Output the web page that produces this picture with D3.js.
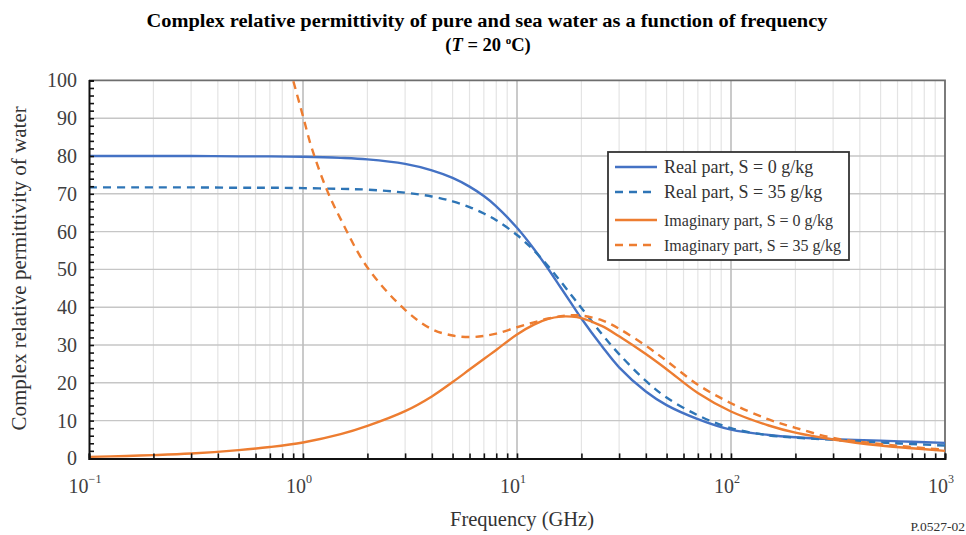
<!DOCTYPE html>
<html>
<head>
<meta charset="utf-8">
<script src="https://cdn.jsdelivr.net/npm/d3@7"></script>
<style>
  body { margin: 0; background: #fff; }
  svg { display: block; font-family: "Liberation Serif", "Times New Roman", serif; }
</style>
</head>
<body>
<svg id="chart" width="966" height="535"></svg>
<script>
// frequencies in GHz
const freq = [0.1, 0.15, 0.2, 0.3, 0.5, 0.7, 1, 1.5, 2, 3, 4, 5, 6, 7, 8, 10, 12, 14, 16, 18, 20, 25, 30, 40, 50, 70, 100, 150, 200, 300, 500, 700, 1000]
const realS0 = [80.0, 80.0, 80.0, 80.0, 79.9, 79.9, 79.8, 79.5, 79.1, 77.9, 76.2, 74.2, 71.9, 69.4, 66.7, 61.0, 55.4, 50.1, 45.2, 40.9, 37.0, 29.6, 24.1, 17.7, 14.1, 10.4, 7.6, 6.2, 5.6, 5.1, 4.7, 4.4, 4.1]
const realS35 = [71.7, 71.7, 71.7, 71.7, 71.6, 71.6, 71.5, 71.3, 71.1, 70.3, 69.3, 68.0, 66.5, 64.8, 63.0, 59.1, 55.0, 50.8, 46.8, 43.1, 39.8, 32.8, 27.6, 20.5, 16.1, 11.4, 8.0, 6.1, 5.5, 4.9, 4.2, 3.8, 3.4]
const imagS0 = [0.4, 0.65, 0.87, 1.3, 2.2, 3.0, 4.2, 6.4, 8.6, 12.5, 16.4, 20.2, 23.5, 26.3, 28.7, 32.8, 35.4, 36.9, 37.5, 37.5, 37.1, 35.0, 32.3, 27.6, 23.6, 17.3, 12.4, 8.7, 6.8, 5.0, 3.4, 2.7, 2.0]
const freqImagS35 = [0.8, 1, 1.1, 1.3, 1.5, 2, 3, 4, 5, 6, 7, 8, 10, 12, 14, 16, 18, 20, 25, 30, 40, 50, 70, 100, 150, 200, 300, 500, 700, 1000]
const imagS35 = [110.5, 90.5, 82.0, 70.7, 63.3, 50.5, 39.3, 34.2, 32.5, 32.1, 32.4, 33.0, 34.7, 36.0, 37.0, 37.6, 37.9, 37.8, 36.5, 34.3, 29.8, 25.8, 19.5, 14.6, 10.3, 8.1, 5.4, 3.8, 3.0, 2.3]

const yTicks = [0, 10, 20, 30, 40, 50, 60, 70, 80, 90, 100]
const xExponents = [-1, 0, 1, 2, 3]
const legendLabels = ["Real part, S = 0 g/kg", "Real part, S = 35 g/kg", "Imaginary part, S = 0 g/kg", "Imaginary part, S = 35 g/kg"]

const svg = d3.select("#chart")
const pLeft = 89, pRight = 945, pTop = 80.4, pBottom = 458.4

const x = d3.scaleLog().domain([0.1, 1000]).range([pLeft, pRight])
const y = d3.scaleLinear().domain([0, 100]).range([pBottom, pTop])

// minor values 1..9 x 10^k
let minorX = []
for (let k = -1; k < 3; k++) {
  for (let m = 1; m < 10; m++) minorX.push(m * Math.pow(10, k))
}
minorX.push(1000)

// grid
svg.append("g").selectAll("line").data(minorX.filter(d => !xExponents.some(e => Math.abs(d - Math.pow(10, e)) < 1e-9)))
  .enter().append("line")
  .attr("x1", d => x(d)).attr("x2", d => x(d))
  .attr("y1", pTop).attr("y2", pBottom)
  .attr("stroke", "#e4e4e4").attr("stroke-width", 1.2)

svg.append("g").selectAll("line").data(yTicks.slice(1, -1))
  .enter().append("line")
  .attr("x1", pLeft).attr("x2", pRight)
  .attr("y1", d => y(d)).attr("y2", d => y(d))
  .attr("stroke", "#c6c6c6").attr("stroke-width", 1.4)

svg.append("g").selectAll("line").data(xExponents.slice(1, -1))
  .enter().append("line")
  .attr("x1", d => x(Math.pow(10, d))).attr("x2", d => x(Math.pow(10, d)))
  .attr("y1", pTop).attr("y2", pBottom)
  .attr("stroke", "#bdbdbd").attr("stroke-width", 1.6)

// frame top / right
svg.append("path")
  .attr("d", `M${pLeft},${pTop}H${pRight}V${pBottom}`)
  .attr("fill", "none").attr("stroke", "#6e6e6e").attr("stroke-width", 1.8)

// curves
svg.append("clipPath").attr("id", "clip").append("rect")
  .attr("x", pLeft).attr("y", pTop).attr("width", pRight - pLeft).attr("height", pBottom - pTop)

const line = d3.line().curve(d3.curveCatmullRom.alpha(0.5))

const series = [
  { xs: freq, ys: realS0, color: "#4472c4", dash: null },
  { xs: freq, ys: realS35, color: "#2e75b6", dash: "8,6" },
  { xs: freq, ys: imagS0, color: "#ed7d31", dash: null },
  { xs: freqImagS35, ys: imagS35, color: "#ed7d31", dash: "8,6" }
]

const plot = svg.append("g").attr("clip-path", "url(#clip)")
series.forEach(function(s) {
  plot.append("path")
    .attr("d", line(s.xs.map((f, i) => [x(f), y(s.ys[i])])))
    .attr("fill", "none")
    .attr("stroke", s.color)
    .attr("stroke-width", 2.4)
    .attr("stroke-dasharray", s.dash)
})

// axes
let yAxis = d3.axisLeft(y)
  .tickValues(d3.range(0, 101, 2))
  .tickSize(-5)
  .tickPadding(12)
  .tickFormat(d => d % 10 === 0 ? d : "")
let gy = svg.append("g").attr("transform", `translate(${pLeft},0)`).call(yAxis)
gy.select(".domain").attr("stroke", "#111").attr("stroke-width", 2)
gy.selectAll(".tick line").attr("stroke", "#111").attr("stroke-width", 1.6)
gy.selectAll(".tick text").attr("font-size", 20).attr("fill", "#404040")
  .attr("font-family", "Liberation Serif")

let xAxis = d3.axisBottom(x).tickValues(minorX).tickSize(-5).tickFormat("")
let gx = svg.append("g").attr("transform", `translate(0,${pBottom})`).call(xAxis)
gx.select(".domain").attr("stroke", "#111").attr("stroke-width", 2)
gx.selectAll(".tick line").attr("stroke", "#111").attr("stroke-width", 1.6)

// x labels 10^k
let xl = svg.append("g").selectAll("text").data(xExponents).enter().append("text")
  .attr("x", d => x(Math.pow(10, d)) - 4)
  .attr("y", 493)
  .attr("text-anchor", "middle")
  .attr("font-size", 20)
  .attr("fill", "#404040")
xl.append("tspan").text("10")
xl.append("tspan").attr("dy", -10).attr("font-size", 12).text(d => d < 0 ? "\u22121" : d)

// axis titles
svg.append("text")
  .attr("x", 522).attr("y", 526)
  .attr("text-anchor", "middle").attr("font-size", 20.5).attr("fill", "#333")
  .text("Frequency (GHz)")

svg.append("text")
  .attr("transform", `translate(26,${(pTop + pBottom) / 2 - 1}) rotate(-90)`)
  .attr("text-anchor", "middle").attr("font-size", 21).attr("fill", "#333")
  .text("Complex relative permittivity of water")

svg.append("text")
  .attr("x", 965).attr("y", 531)
  .attr("text-anchor", "end").attr("font-size", 13.5).attr("fill", "#333")
  .text("P.0527-02")

// title
svg.append("text")
  .attr("x", 487).attr("y", 27)
  .attr("text-anchor", "middle").attr("font-size", 18.5).attr("font-weight", "bold")
  .attr("textLength", 681).attr("lengthAdjust", "spacingAndGlyphs")
  .text("Complex relative permittivity of pure and sea water as a function of frequency")

let t2 = svg.append("text")
  .attr("x", 488).attr("y", 51)
  .attr("text-anchor", "middle").attr("font-size", 18.5).attr("font-weight", "bold")
t2.append("tspan").text("(")
t2.append("tspan").attr("font-style", "italic").text("T")
t2.append("tspan").text(" = 20 ")
t2.append("tspan").attr("dy", -7).attr("font-size", 11).text("o")
t2.append("tspan").attr("dy", 7).text("C)")

// legend
let lg = svg.append("g").attr("transform", "translate(608,152)")
lg.append("rect").attr("width", 241).attr("height", 108)
  .attr("fill", "#fff").attr("stroke", "#333").attr("stroke-width", 1.8)
const legendRows = [15, 40, 68, 93]
legendLabels.forEach(function(lab, i) {
  let yy = legendRows[i]
  lg.append("line").attr("x1", 7).attr("x2", 49).attr("y1", yy).attr("y2", yy)
    .attr("stroke", series[i].color).attr("stroke-width", 2.4)
    .attr("stroke-dasharray", series[i].dash)
  lg.append("text").attr("x", 56).attr("y", yy + (i < 2 ? 6 : 5.5))
    .attr("font-size", i < 2 ? 18 : 16).attr("fill", "#333").text(lab)
})
</script>
</body>
</html>
